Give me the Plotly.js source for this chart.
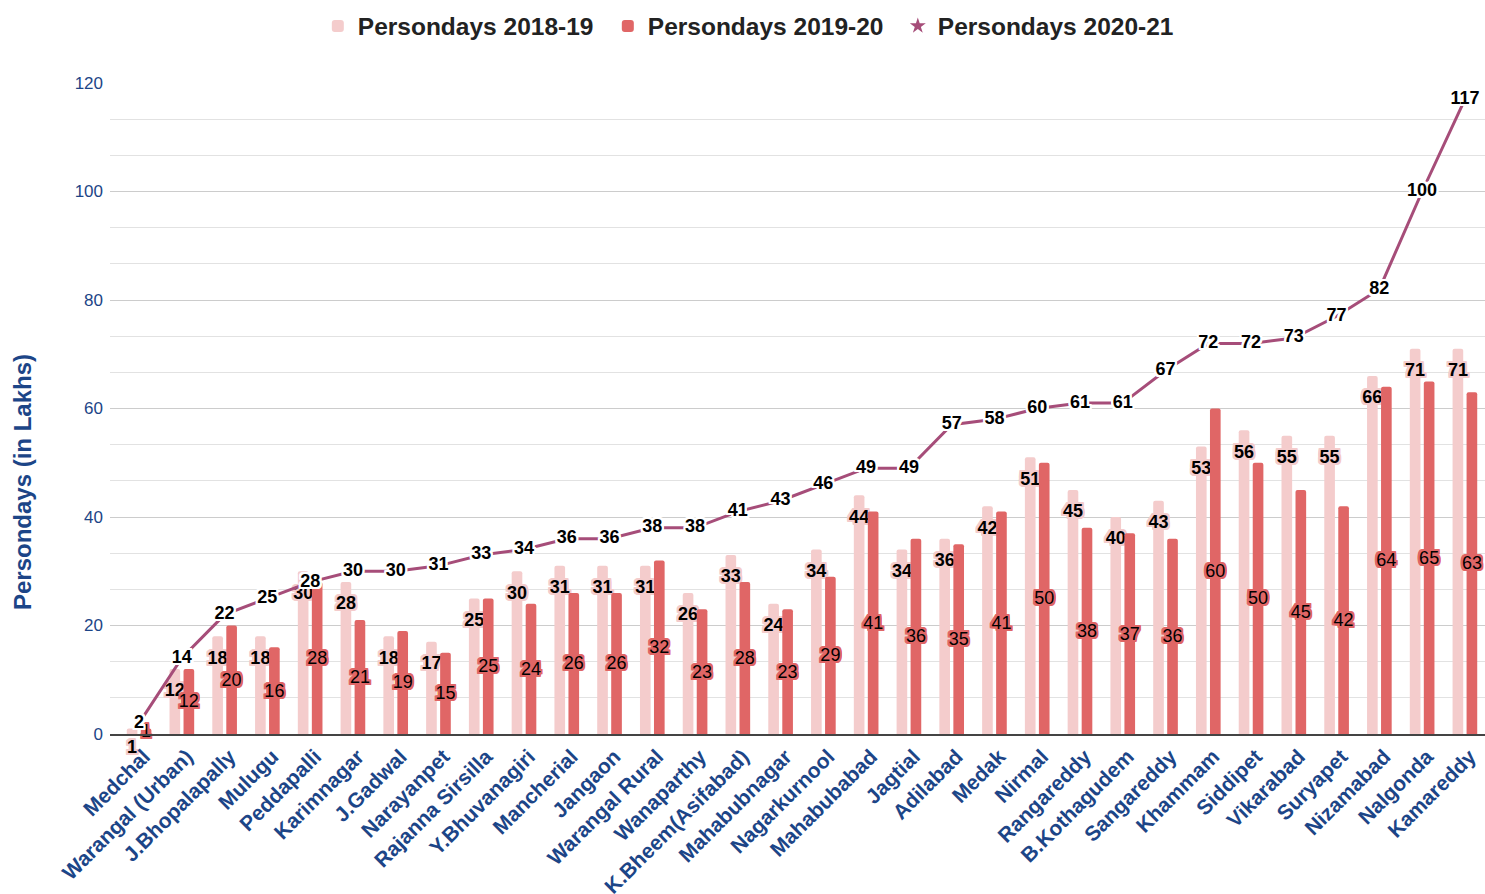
<!DOCTYPE html>
<html>
<head>
<meta charset="utf-8">
<script src="https://cdn.plot.ly/plotly-3.0.1.min.js"></script>
<style>
  html, body { margin: 0; padding: 0; background: #fff; }
  #chart { width: 1485px; height: 894px; }
</style>
</head>
<body>
<div id="chart"></div>
<script>
const districts = [
  "Medchal", "Warangal (Urban)", "J.Bhopalapally", "Mulugu", "Peddapalli", "Karimnagar",
  "J.Gadwal", "Narayanpet", "Rajanna Sirsilla", "Y.Bhuvanagiri", "Mancherial", "Jangaon",
  "Warangal Rural", "Wanaparthy", "K.Bheem(Asifabad)", "Mahabubnagar", "Nagarkurnool",
  "Mahabubabad", "Jagtial", "Adilabad", "Medak", "Nirmal", "Rangareddy", "B.Kothagudem",
  "Sangareddy", "Khammam", "Siddipet", "Vikarabad", "Suryapet", "Nizamabad", "Nalgonda", "Kamareddy"
];
const persondays2018_19 = [1, 12, 18, 18, 30, 28, 18, 17, 25, 30, 31, 31, 31, 26, 33, 24, 34,
  44, 34, 36, 42, 51, 45, 40, 43, 53, 56, 55, 55, 66, 71, 71];
const persondays2019_20 = [1, 12, 20, 16, 28, 21, 19, 15, 25, 24, 26, 26, 32, 23, 28, 23, 29,
  41, 36, 35, 41, 50, 38, 37, 36, 60, 50, 45, 42, 64, 65, 63];
const persondays2020_21 = [2, 14, 22, 25, 28, 30, 30, 31, 33, 34, 36, 36, 38, 38, 41, 43, 46,
  49, 49, 57, 58, 60, 61, 61, 67, 72, 72, 73, 77, 82, 100, 117];
const yTickVals = [0, 20, 40, 60, 80, 100, 120];

const FONT = "Liberation Sans, Arial, sans-serif";
const BLUE = "#1c4587";
function halo(c, d) {
  d = d || 2;
  const offs = [[d,0],[-d,0],[0,d],[0,-d],[d,d],[-d,-d],[d,-d],[-d,d],[1,2],[2,1],[-1,2],[-2,1],[1,-2],[2,-1],[-1,-2],[-2,-1]];
  return offs.map(o => o[0] + "px " + o[1] + "px 0 " + c).join(", ");
}

const traces = [
  {
    type: "bar",
    name: "Persondays 2018-19",
    x: districts,
    y: persondays2018_19,
    marker: { color: "#f4cccc" },
    text: persondays2018_19,
    texttemplate: "<span style='font-size:1px'>&nbsp;</span><br>%{y}",
    textposition: "inside",
    insidetextanchor: "end",
    textangle: 0,
    constraintext: "none",
    textfont: { family: FONT, size: 18, color: "#000000", weight: 700, shadow: halo("#f4cccc") },
    cliponaxis: false,
    hoverinfo: "x+y+name"
  },
  {
    type: "bar",
    name: "Persondays 2019-20",
    x: districts,
    y: persondays2019_20,
    marker: { color: "#e06666" },
    text: persondays2019_20,
    texttemplate: "%{y}",
    textposition: "inside",
    insidetextanchor: "middle",
    textangle: 0,
    constraintext: "none",
    textfont: { family: FONT, size: 18, color: "#000000", weight: 400, shadow: halo("#e06666") },
    cliponaxis: false,
    hoverinfo: "x+y+name"
  },
  {
    type: "scatter",
    name: "Persondays 2020-21",
    x: districts,
    y: persondays2020_21,
    mode: "markers",
    marker: { symbol: "star", size: 0.01, color: "#a64d79" },
    cliponaxis: false,
    hoverinfo: "skip",
    showlegend: true
  },
  {
    type: "scatter",
    name: "Persondays 2020-21",
    x: districts,
    y: persondays2020_21,
    mode: "lines+text",
    line: { color: "#a64d79", width: 3 },
    text: persondays2020_21,
    textposition: "middle center",
    textfont: { family: FONT, size: 18, color: "#000000", weight: 700, shadow: halo("#ffffff") },
    cliponaxis: false,
    showlegend: false,
    hoverinfo: "x+y+name"
  }
];

const layout = {
  width: 1485,
  height: 894,
  margin: { l: 110, r: 0, t: 83, b: 160 },
  paper_bgcolor: "#ffffff",
  plot_bgcolor: "#ffffff",
  font: { family: FONT, color: "#222222" },
  barmode: "group",
  bargap: 0.345,
  bargroupgap: 0.24,
  barcornerradius: 2,
  showlegend: true,
  legend: {
    orientation: "h",
    x: 0.4675, xanchor: "center",
    y: 1.0876, yanchor: "middle",
    font: { family: FONT, size: 24.5, color: "#222222", weight: 700 },
    itemsizing: "constant",
    traceorder: "normal",
    entrywidth: 245,
    entrywidthmode: "pixels"
  },
  xaxis: {
    type: "category",
    range: [-0.68, 31.47],
    tickangle: -45,
    tickfont: { family: FONT, size: 21, color: BLUE, weight: 700 },
    ticklabelshift: 5,
    showgrid: false,
    showline: true,
    linecolor: "#444444",
    linewidth: 2,
    ticks: "",
    automargin: false
  },
  yaxis: {
    range: [0, 120],
    tickvals: yTickVals,
    tickfont: { family: FONT, size: 17, color: BLUE },
    showgrid: true,
    gridcolor: "#cccccc",
    gridwidth: 1,
    minor: { dtick: 20 / 3, showgrid: true, gridcolor: "#e2e2e2", gridwidth: 1 },
    zeroline: false,
    ticks: "",
    ticklabelstandoff: 6,
    automargin: false
  },
  annotations: [
    {
      text: "Persondays (in Lakhs)",
      xref: "paper", yref: "paper",
      x: -0.064, y: 0.387,
      xanchor: "center", yanchor: "middle",
      textangle: -90,
      showarrow: false,
      font: { family: FONT, size: 24, color: BLUE, weight: 700 }
    }
  ]
};

Plotly.newPlot("chart", traces, layout, { displayModeBar: false, staticPlot: true });
</script>
</body>
</html>
